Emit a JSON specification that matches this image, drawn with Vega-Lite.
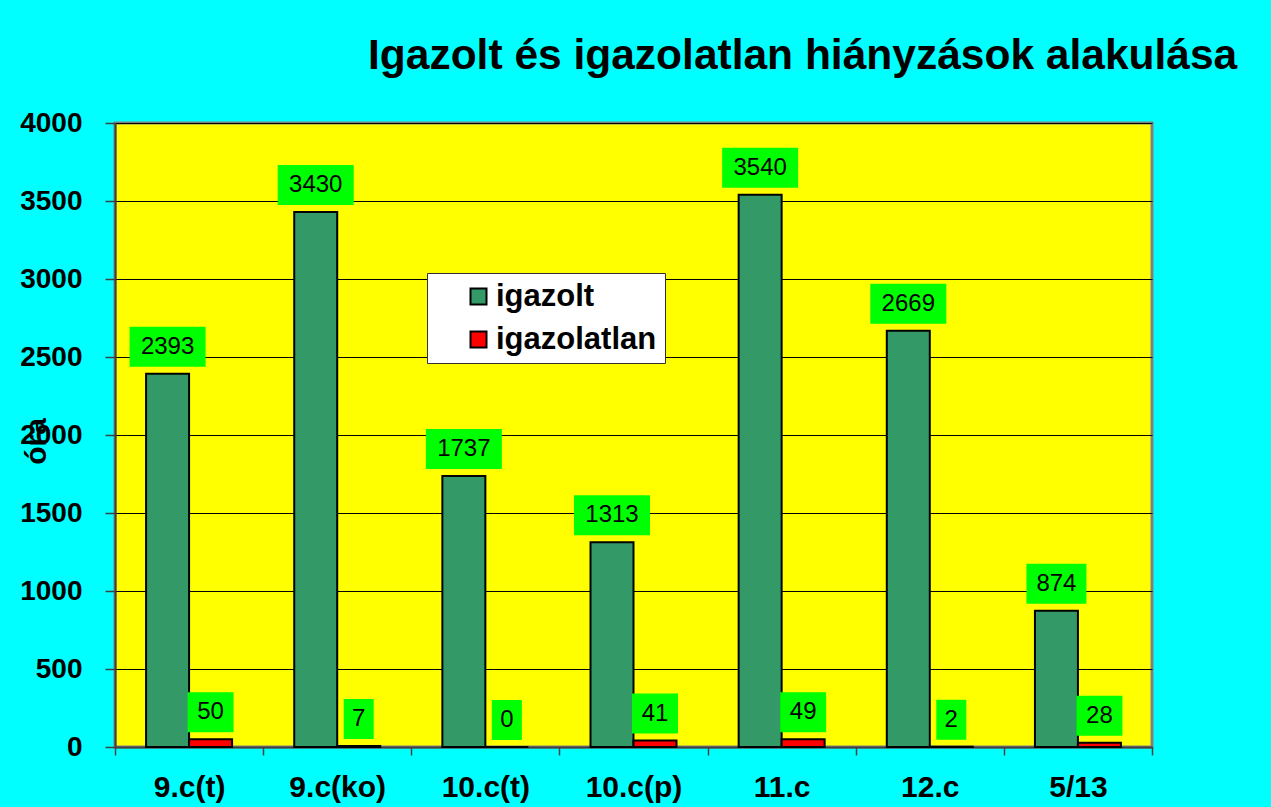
{
  "$schema": "https://vega.github.io/schema/vega-lite/v6.json",
  "width": 1037,
  "height": 624,
  "autosize": {"type": "none"},
  "padding": {"left": 115, "top": 123, "right": 119, "bottom": 60},
  "background": "#00FFFF",
  "title": {
    "text": "Igazolt és igazolatlan hiányzások alakulása",
    "font": "Liberation Sans",
    "fontSize": 42.5,
    "fontWeight": "bold",
    "color": "black",
    "anchor": "start",
    "frame": "group",
    "dx": 253,
    "baseline": "alphabetic",
    "offset": -2
  },
  "data": {
    "values": [
      {"osztaly": "9.c(t)", "sorozat": "igazolt", "ora": 2393},
      {"osztaly": "9.c(t)", "sorozat": "igazolatlan", "ora": 50},
      {"osztaly": "9.c(ko)", "sorozat": "igazolt", "ora": 3430},
      {"osztaly": "9.c(ko)", "sorozat": "igazolatlan", "ora": 7},
      {"osztaly": "10.c(t)", "sorozat": "igazolt", "ora": 1737},
      {"osztaly": "10.c(t)", "sorozat": "igazolatlan", "ora": 0},
      {"osztaly": "10.c(p)", "sorozat": "igazolt", "ora": 1313},
      {"osztaly": "10.c(p)", "sorozat": "igazolatlan", "ora": 41},
      {"osztaly": "11.c", "sorozat": "igazolt", "ora": 3540},
      {"osztaly": "11.c", "sorozat": "igazolatlan", "ora": 49},
      {"osztaly": "12.c", "sorozat": "igazolt", "ora": 2669},
      {"osztaly": "12.c", "sorozat": "igazolatlan", "ora": 2},
      {"osztaly": "5/13", "sorozat": "igazolt", "ora": 874},
      {"osztaly": "5/13", "sorozat": "igazolatlan", "ora": 28}
    ]
  },
  "encoding": {
    "x": {
      "field": "osztaly",
      "type": "nominal",
      "sort": null,
      "scale": {"paddingInner": 0, "paddingOuter": 0},
      "axis": {
        "title": null,
        "labelAngle": 0,
        "labelFont": "Liberation Sans",
        "labelFontSize": 30,
        "labelFontWeight": "bold",
        "labelColor": "black",
        "labelBaseline": "top",
        "labelPadding": 17,
        "tickSize": 8,
        "tickBand": "extent",
        "tickColor": "#404040",
        "tickWidth": 1.5,
        "domainColor": "#404040",
        "domainWidth": 2,
        "grid": false
      }
    },
    "xOffset": {
      "field": "sorozat",
      "type": "nominal",
      "sort": ["igazolt", "igazolatlan"],
      "scale": {"paddingInner": 0, "paddingOuter": 0.723}
    },
    "y": {
      "field": "ora",
      "type": "quantitative",
      "scale": {"domain": [0, 4000], "nice": false},
      "axis": {
        "values": [0, 500, 1000, 1500, 2000, 2500, 3000, 3500, 4000],
        "format": "d",
        "title": "óra",
        "titleFont": "Liberation Sans",
        "titleFontSize": 30,
        "titleFontWeight": "bold",
        "titleColor": "black",
        "titleAngle": 270,
        "titleX": -70,
        "titleY": 318,
        "titleAlign": "center",
        "titleBaseline": "alphabetic",
        "labelFont": "Liberation Sans",
        "labelFontSize": 28,
        "labelFontWeight": "bold",
        "labelColor": "black",
        "labelPadding": 23,
        "labelFlush": false,
        "labelOverlap": false,
        "tickSize": 10,
        "tickColor": "#404040",
        "tickWidth": 1.5,
        "domainColor": "#404040",
        "domainWidth": 2,
        "grid": true,
        "gridColor": "black",
        "gridWidth": 1
      }
    }
  },
  "layer": [
    {
      "mark": {"type": "bar", "stroke": "black", "strokeWidth": 2},
      "encoding": {
        "color": {
          "field": "sorozat",
          "type": "nominal",
          "scale": {"domain": ["igazolt", "igazolatlan"], "range": ["#339966", "#FF0000"]},
          "legend": {
            "orient": "none",
            "legendX": 312,
            "legendY": 150,
            "title": "\u00a0\u00a0\u00a0\u00a0",
            "titleOrient": "right",
            "titleFontSize": 31,
            "titlePadding": 0,
            "fillColor": "white",
            "strokeColor": "#333333",
            "padding": 8,
            "symbolType": "square",
            "symbolSize": 256,
            "symbolStrokeColor": "black",
            "symbolStrokeWidth": 2,
            "symbolOpacity": 1,
            "symbolOffset": 28,
            "labelFont": "Liberation Sans",
            "labelFontSize": 31,
            "labelFontWeight": "bold",
            "labelColor": "black",
            "labelOffset": 2,
            "labelLimit": 400,
            "rowPadding": 11
          }
        }
      }
    },
    {
      "transform": [{"calculate": "length(toString(datum.ora))", "as": "jegy"}],
      "mark": {"type": "point", "filled": true, "fill": "#00FF00", "opacity": 1, "size": 4, "yOffset": -27, "strokeWidth": 0},
      "encoding": {
        "shape": {
          "field": "jegy",
          "type": "nominal",
          "scale": {
            "domain": [1, 2, 3, 4],
            "range": [
              "M-15,-20H15V20H-15Z",
              "M-23,-20H23V20H-23Z",
              "M-30,-20H30V20H-30Z",
              "M-38,-20H38V20H-38Z"
            ]
          },
          "legend": null
        }
      }
    },
    {
      "mark": {"type": "text", "font": "Liberation Sans", "fontSize": 24, "color": "black", "yOffset": -27, "baseline": "middle", "align": "center"},
      "encoding": {
        "text": {"field": "ora", "type": "quantitative", "format": "d"}
      }
    }
  ],
  "config": {
    "view": {"fill": "#FFFF00", "stroke": "#808080", "strokeWidth": 3}
  }
}
